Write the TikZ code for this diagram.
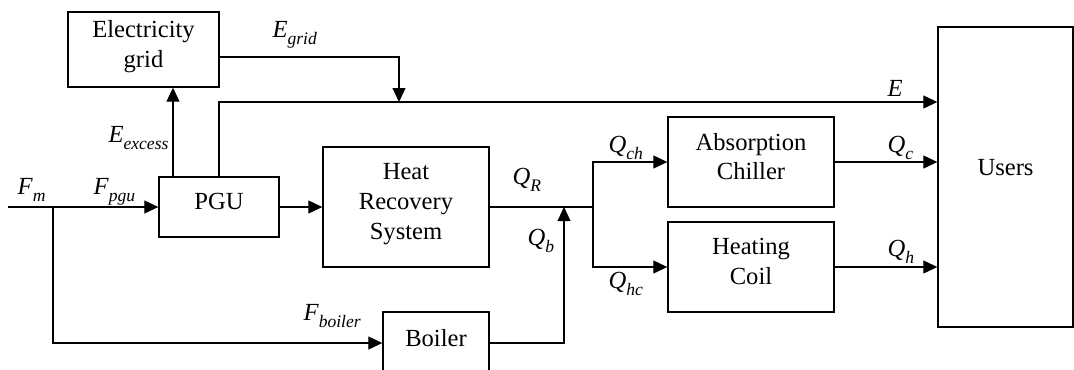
\documentclass[tikz,border=0pt]{standalone}
\usepackage{fontspec}
\setmainfont{Liberation Serif}
\usetikzlibrary{arrows.meta, positioning, calc}
\newcommand{\flow}[2]{\textit{#1}\raisebox{-0.145cm}{\fontsize{10}{12}\selectfont\textit{#2}}}

\begin{document}
\begin{tikzpicture}[x=0.02cm, y=-0.02cm, line width=0.6pt,
  >={Triangle[length=0.28cm, width=0.26cm]},
  font=\fontsize{14}{17}\selectfont,
  box/.style={draw, line width=0.8pt, align=center, inner sep=0pt, text depth=0.22cm},
  lbl/.style={anchor=base west, inner sep=0pt}]
  \useasboundingbox (0,0) rectangle (1074,369);
  \clip (0,0) rectangle (1074,369);
  % Blocks
  \node[box, minimum width=3.02cm, minimum height=1.5cm] (grid) at (143.5,49.5) {Electricity\\grid};
  \node[box, minimum width=2.4cm, minimum height=1.2cm] (pgu) at (219,207) {PGU};
  \node[box, minimum width=3.32cm, minimum height=2.4cm] (hrs) at (406,207) {Heat\\Recovery\\System};
  \node[box, minimum width=2.12cm, minimum height=1.24cm] (boiler) at (436,343) {Boiler};
  \node[box, minimum width=3.32cm, minimum height=1.8cm] (chiller) at (751,162) {Absorption\\Chiller};
  \node[box, minimum width=3.32cm, minimum height=1.8cm] (coil) at (751,267) {Heating\\Coil};
  \node[box, minimum width=2.7cm, minimum height=6cm, text depth=0.4cm] (users) at (1005.5,177) {Users};
  % Junctions
  \coordinate (src) at (8,207);
  \coordinate (split) at (53,207);
  \coordinate (exc) at (173,177);
  \coordinate (gout) at (219,57);
  \coordinate (ejoin) at (399,102);
  \coordinate (mix) at (564,207);
  \coordinate (hub) at (593,207);
  % Connections
  \draw[->] (src) -- (pgu.west);
  \draw[->] (split) |- (boiler.west);
  \draw[->] (pgu.east) -- (hrs.west);
  \draw[->] (exc) -- (exc |- grid.south);
  \draw[->] (pgu.north) |- (users.west |- ejoin);
  \draw[->] (gout) -| (ejoin);
  \draw (hrs.east) -- (hub);
  \draw[->] (boiler.east) -| (mix);
  \draw[->] (hub) |- (chiller.west);
  \draw[->] (hub) |- (coil.west);
  \draw[->] (chiller.east) -- (chiller.east -| users.west);
  \draw[->] (coil.east) -- (coil.east -| users.west);
  % Labels
  \node[lbl] (Fm) at (17,194) {\flow{F}{m}};
  \node[lbl] (Fpgu) at (93,194) {\flow{F}{pgu}};
  \node[lbl] (Eexcess) at (108,142) {\flow{E}{excess}};
  \node[lbl] (Egrid) at (272,37) {\flow{E}{grid}};
  \node[lbl] (Eload) at (887,96) {\textit{E}};
  \node[lbl] (Qch) at (608,152) {\flow{Q}{ch}};
  \node[lbl] (QR) at (512,184) {\flow{Q}{R}};
  \node[lbl] (Qb) at (527,245) {\flow{Q}{b}};
  \node[lbl] (Qhc) at (608,288) {\flow{Q}{hc}};
  \node[lbl] (Qc) at (887,152) {\flow{Q}{c}};
  \node[lbl] (Qh) at (887,256) {\flow{Q}{h}};
  \node[lbl] (Fboiler) at (303,320) {\flow{F}{boiler}};
\end{tikzpicture}
\end{document}
